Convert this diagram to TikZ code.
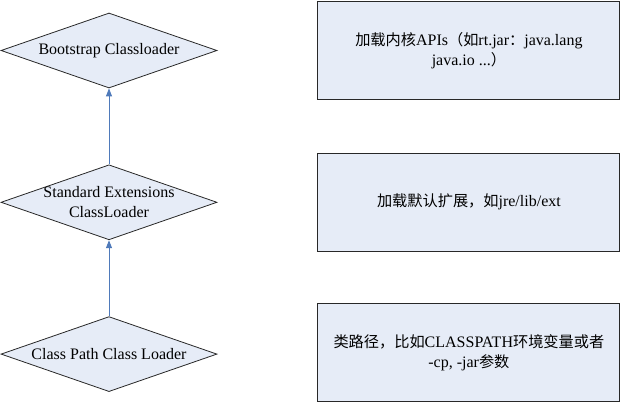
\documentclass[tikz,border=0pt]{standalone}
\usepackage{fontspec}
\setmainfont{Liberation Serif}
\newfontfamily\cjk[Scale=0.95]{Noto Sans CJK SC}
\newcommand{\zh}[1]{{\cjk #1}}
\usetikzlibrary{positioning,shapes.geometric,arrows.meta}
\definecolor{paleblue}{RGB}{230,236,247}
\definecolor{linkblue}{RGB}{79,122,186}
\definecolor{edgegray}{RGB}{40,40,40}
\tikzset{
  loader/.style={
    shape=diamond, aspect=2.88, draw=edgegray, fill=paleblue, line width=0.8pt,
    minimum width=216pt, minimum height=75pt, inner sep=-6pt, align=center
  },
  note/.style={
    draw=edgegray, fill=paleblue, line width=1pt,
    minimum width=302pt, minimum height=98pt, align=center
  },
  up/.style={
    draw=linkblue, line width=0.9pt, -{Triangle[length=8pt,width=6pt]}
  }
}

\begin{document}
\begin{tikzpicture}[font=\fontsize{16}{20}\selectfont]
            \useasboundingbox (0,0) rectangle (620pt,-403pt);
            \def\gap{76pt}
            \node [loader] (boot) at (109pt,-50.5pt) {Bootstrap Classloader};
            \node [loader, below = \gap of boot] (ext) {Standard Extensions\\ClassLoader};
            \node [loader, below = \gap of ext] (app) {Class Path Class Loader};

            \node [note, right = 100pt of boot] (bootnote) {\zh{加载内核}APIs\zh{（如}rt.jar\zh{：}java.lang\\java.io ...\zh{）}};
            \node [note, right = 100pt of ext] (extnote) {\zh{加载默认扩展，如}jre/lib/ext};
            \node [note, right = 100pt of app, yshift=1.5pt] (appnote) {\zh{类路径，比如}CLASSPATH\zh{环境变量或者}\\-cp, -jar\zh{参数}};

            \draw [up] (ext.north) -- (boot.south);
            \draw [up] (app.north) -- (ext.south);
        \end{tikzpicture}
\end{document}
